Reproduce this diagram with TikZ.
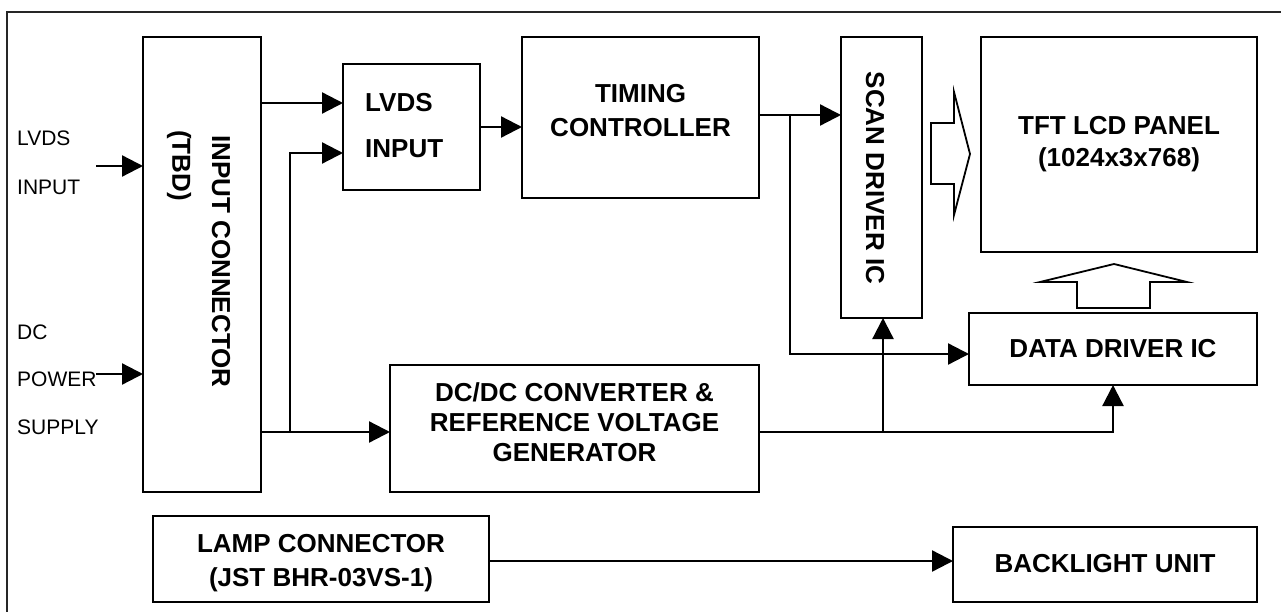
\documentclass[tikz,border=0pt]{standalone}
\usepackage{fontspec}
\setmainfont{Liberation Sans}
\usetikzlibrary{arrows.meta}
\begin{document}
\begin{tikzpicture}[x=1pt,y=-1pt,
  blk/.style={draw, line width=2.6pt, inner sep=0pt, outer sep=0pt, anchor=north west},
  arr/.style={line width=2.3pt, -{Triangle[length=21pt,width=21pt]}},
  ln/.style={line width=2.3pt},
  hollow/.style={draw, line width=1.8pt, line join=miter, fill=white},
  bt/.style={font=\fontsize{26}{30}\selectfont\bfseries, inner sep=0pt, anchor=base},
  rt/.style={font=\fontsize{21}{25}\selectfont, inner sep=0pt, anchor=base west}]
\useasboundingbox (0,0) rectangle (1281,612);
\fill[white] (0,0) rectangle (1281,612);
% outer frame (only top and left edges are inside the picture)
\draw[line width=1.6pt, black!85] (1285,12) -- (7,12) -- (7,616);

% blocks
\node[blk, minimum width=118pt, minimum height=455pt] (inc) at (143,37) {};
\node[blk, minimum width=137pt, minimum height=126pt] (lvds) at (343,64) {};
\node[blk, minimum width=237pt, minimum height=161pt] (tim) at (522,37) {};
\node[blk, minimum width=81pt, minimum height=281pt] (scan) at (841,37) {};
\node[blk, minimum width=276pt, minimum height=215pt] (tft) at (981,37) {};
\node[blk, minimum width=288pt, minimum height=72pt] (data) at (969,313) {};
\node[blk, minimum width=369pt, minimum height=127pt] (dcdc) at (390,365) {};
\node[blk, minimum width=336pt, minimum height=86pt] (lamp) at (153,516) {};
\node[blk, minimum width=304pt, minimum height=75pt] (back) at (953,527) {};

% texts
\node[rt] (t1) at (17,145.5) {LVDS};
\node[rt] (t2) at (17,194.5) {INPUT};
\node[rt] (t3) at (17,339.5) {DC};
\node[rt] (t4) at (17,386.5) {POWER};
\node[rt] (t5) at (17,434.5) {SUPPLY};

\node[font=\fontsize{26}{30}\selectfont\bfseries, inner sep=0pt, rotate=-90, anchor=west] (t6) at (221,135) {INPUT CONNECTOR};
\node[font=\fontsize{26}{30}\selectfont\bfseries, inner sep=0pt, rotate=-90, anchor=west] (t7) at (179,130) {(TBD)};

\node[bt, anchor=base west] (t8) at (365,111.3) {LVDS};
\node[bt, anchor=base west] (t9) at (365,157.3) {INPUT};

\node[bt] (t10) at (640.5,102.3) {TIMING};
\node[bt] (t11) at (640.5,136.3) {CONTROLLER};

\node[font=\fontsize{26}{30}\selectfont\bfseries, inner sep=0pt, rotate=-90] (t12) at (875,178) {SCAN DRIVER IC};

\node[bt] (t13) at (1119,134.3) {TFT LCD PANEL};
\node[bt] (t14) at (1119,166.3) {(1024x3x768)};

\node[bt] (t15) at (1113,357.3) {DATA DRIVER IC};

\node[bt] (t16) at (574.5,401.3) {DC/DC CONVERTER \&};
\node[bt] (t17) at (574.5,431.3) {REFERENCE VOLTAGE};
\node[bt] (t18) at (574.5,461.3) {GENERATOR};

\node[bt] (t19) at (321,552.3) {LAMP CONNECTOR};
\node[bt] (t20) at (321,586.3) {(JST BHR-03VS-1)};

\node[bt] (t21) at (1105,572.3) {BACKLIGHT UNIT};

% connectors
\coordinate (lvx) at (96,166);
\coordinate (dcx) at (96,374);
\draw[arr] (lvx) -- (lvx -| inc.west);
\draw[arr] (dcx) -- (dcx -| inc.west);
\draw[arr] (inc.east |- 0,103) -- (lvds.west |- 0,103);
\coordinate (j1) at (290,432);
\draw[arr] (j1) |- (lvds.west |- 0,153);
\draw[arr] (inc.east |- 0,432) -- (dcdc.west |- 0,432);
\draw[arr] (lvds.east |- 0,127) -- (tim.west |- 0,127);
\draw[arr] (tim.east |- 0,115) -- (scan.west |- 0,115);
\coordinate (j2) at (790,115);
\draw[arr] (j2) |- (data.west |- 0,354);
\draw[arr] (dcdc.east |- 0,432) -| (data.south);
\coordinate (j3) at (883,432);
\draw[arr] (j3) -- (j3 |- scan.south);
\draw[arr] (lamp.east |- 0,561) -- (back.west |- 0,561);

% hollow arrows
\draw[hollow] (931,123) -- (954,123) -- (954,92) -- (970,154) -- (954,215) -- (954,184) -- (931,184) -- cycle;
\draw[hollow] (1077,308) -- (1077,282) -- (1040,282) -- (1114,264) -- (1187,282) -- (1150,282) -- (1150,308) -- cycle;
\end{tikzpicture}
\end{document}
